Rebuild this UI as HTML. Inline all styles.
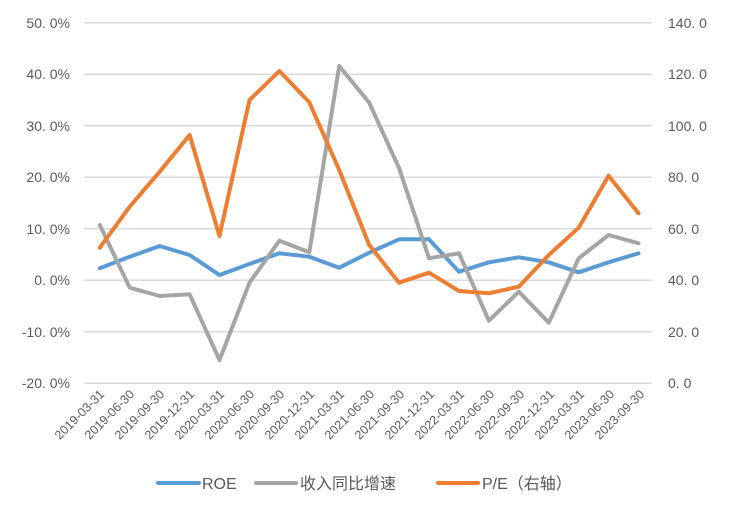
<!DOCTYPE html>
<html><head><meta charset="utf-8"><style>
html,body{margin:0;padding:0;background:#fff;}
svg text{font-family:"Liberation Sans","Noto Sans CJK SC",sans-serif;fill:#595959;}
</style></head><body>
<svg width="737" height="511" viewBox="0 0 737 511" xmlns="http://www.w3.org/2000/svg">
<g stroke="#d9d9d9" stroke-width="1.5">
<line x1="84" x2="652" y1="22.7" y2="22.7"/>
<line x1="84" x2="652" y1="74.2" y2="74.2"/>
<line x1="84" x2="652" y1="125.7" y2="125.7"/>
<line x1="84" x2="652" y1="177.2" y2="177.2"/>
<line x1="84" x2="652" y1="228.7" y2="228.7"/>
<line x1="84" x2="652" y1="280.2" y2="280.2"/>
<line x1="84" x2="652" y1="331.7" y2="331.7"/>
<line x1="84" x2="652" y1="383.2" y2="383.2"/>
</g>
<g font-size="14" text-anchor="end">
<text x="70" y="28">50. 0%</text>
<text x="70" y="79">40. 0%</text>
<text x="70" y="131">30. 0%</text>
<text x="70" y="182">20. 0%</text>
<text x="70" y="234">10. 0%</text>
<text x="70" y="285">0. 0%</text>
<text x="70" y="337">-10. 0%</text>
<text x="70" y="388">-20. 0%</text>
</g>
<g font-size="14">
<text x="668" y="28">140. 0</text>
<text x="668" y="79">120. 0</text>
<text x="668" y="131">100. 0</text>
<text x="668" y="182">80. 0</text>
<text x="668" y="234">60. 0</text>
<text x="668" y="285">40. 0</text>
<text x="668" y="337">20. 0</text>
<text x="668" y="388">0. 0</text>
</g>
<g font-size="12.5" text-anchor="end">
<text transform="translate(105,395) rotate(-45)">2019-03-31</text>
<text transform="translate(135,395) rotate(-45)">2019-06-30</text>
<text transform="translate(165,395) rotate(-45)">2019-09-30</text>
<text transform="translate(195,395) rotate(-45)">2019-12-31</text>
<text transform="translate(225,395) rotate(-45)">2020-03-31</text>
<text transform="translate(255,395) rotate(-45)">2020-06-30</text>
<text transform="translate(285,395) rotate(-45)">2020-09-30</text>
<text transform="translate(315,395) rotate(-45)">2020-12-31</text>
<text transform="translate(345,395) rotate(-45)">2021-03-31</text>
<text transform="translate(375,395) rotate(-45)">2021-06-30</text>
<text transform="translate(405,395) rotate(-45)">2021-09-30</text>
<text transform="translate(435,395) rotate(-45)">2021-12-31</text>
<text transform="translate(465,395) rotate(-45)">2022-03-31</text>
<text transform="translate(495,395) rotate(-45)">2022-06-30</text>
<text transform="translate(525,395) rotate(-45)">2022-09-30</text>
<text transform="translate(555,395) rotate(-45)">2022-12-31</text>
<text transform="translate(585,395) rotate(-45)">2023-03-31</text>
<text transform="translate(615,395) rotate(-45)">2023-06-30</text>
<text transform="translate(645,395) rotate(-45)">2023-09-30</text>
</g>
<g fill="none" stroke-width="4" stroke-linejoin="round" stroke-linecap="round">
<polyline stroke="#5b9bd5" points="99.8,268.3 129.7,256.7 159.7,246 189.6,255 219.5,275 249.5,264 279.4,253.3 309.3,256.7 339.2,267.7 369.2,252.7 399.1,239.3 429,239.3 459,271.7 488.9,262.3 518.8,257.3 548.8,262.3 578.7,272.3 608.6,262.3 638.5,253.3"/>
<polyline stroke="#a5a5a5" points="99.8,225 129.7,287.7 159.7,296 189.6,294.3 219.5,360 249.5,282.7 279.4,240.7 309.3,252.3 339.2,66 369.2,102.7 399.1,168.3 429,258.3 459,253.3 488.9,320.7 518.8,291.7 548.8,322.7 578.7,258.3 608.6,235 638.5,243.3"/>
<polyline stroke="#ed7d31" points="99.8,247.7 129.7,206.7 159.7,171.7 189.6,135 219.5,236 249.5,100 279.4,71 309.3,102.3 339.2,170 369.2,245 399.1,282.7 429,272.7 459,291 488.9,293.3 518.8,286.7 548.8,255 578.7,227.7 608.6,175.7 638.5,213.3"/>
</g>
<g stroke-width="4" stroke-linecap="round">
<line x1="158" x2="199" y1="483" y2="483" stroke="#5b9bd5"/>
<line x1="256" x2="296" y1="483" y2="483" stroke="#a5a5a5"/>
<line x1="438" x2="478" y1="483" y2="483" stroke="#ed7d31"/>
</g>
<g font-size="16">
<text x="202" y="489">ROE</text>
<text x="300" y="489">收入同比增速</text>
<text x="482" y="489">P/E（右轴）</text>
</g>
</svg>
</body></html>
